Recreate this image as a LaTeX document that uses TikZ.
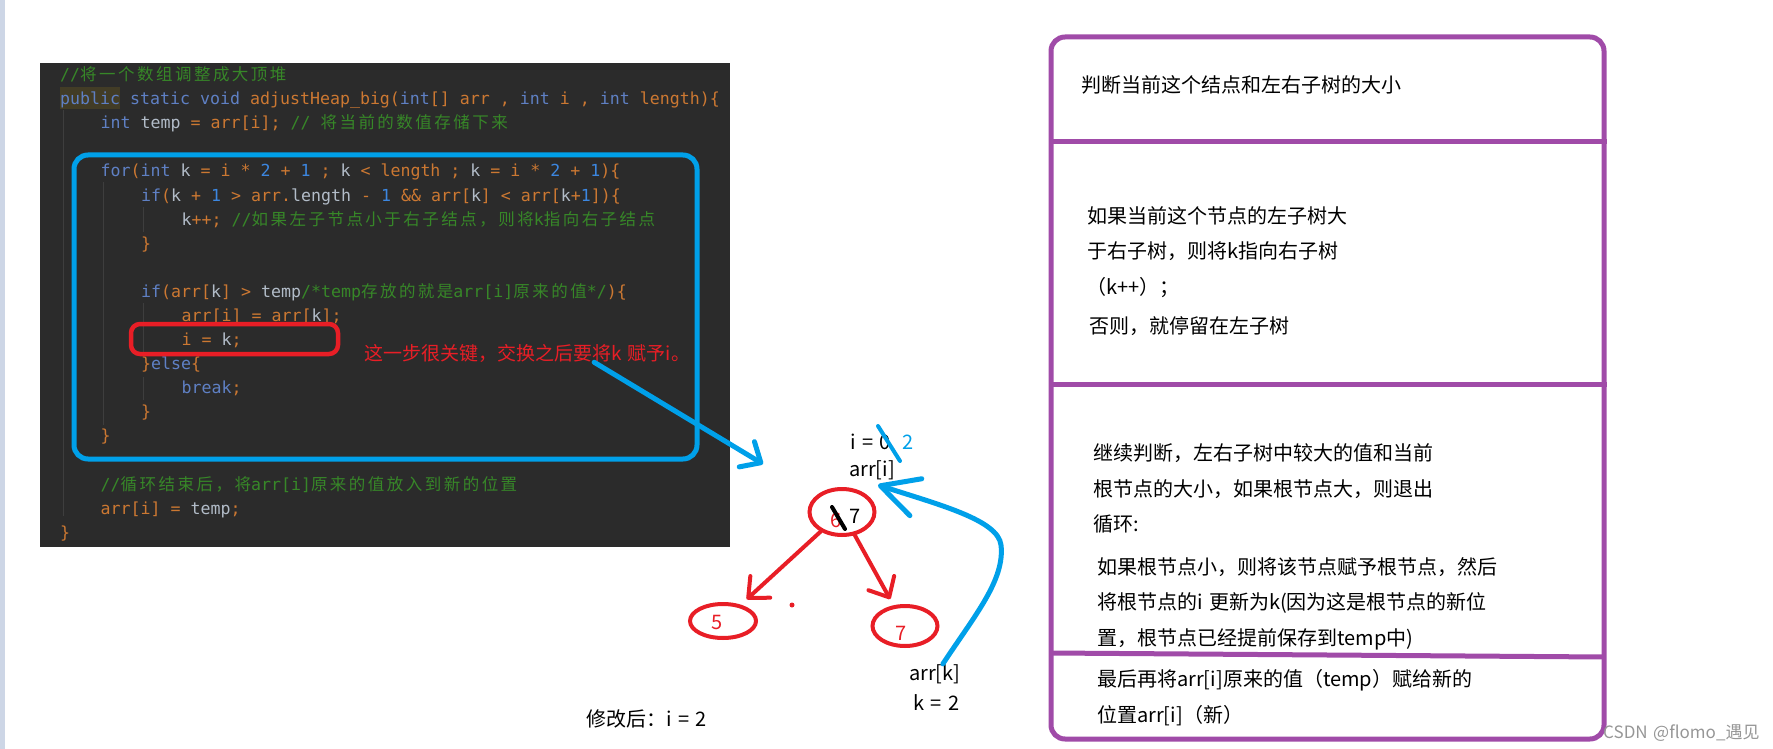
\documentclass[tikz,border=0pt]{standalone}
\usepackage{fontspec}
\setmainfont[WordSpace=1.45]{Noto Sans CJK SC}
\setmonofont{DejaVu Sans Mono}
\newfontfamily\zhmono[LetterSpace=15]{Noto Sans CJK SC}
\usetikzlibrary{arrows.meta,shapes.geometric}
\definecolor{panelbg}{RGB}{43,43,43}
\definecolor{guide}{RGB}{62,62,62}
\definecolor{kwblue}{RGB}{95,128,196}
\definecolor{idorange}{RGB}{204,120,50}
\definecolor{lvgray}{RGB}{178,188,200}
\definecolor{numblue}{RGB}{60,135,225}
\definecolor{cmgreen}{RGB}{55,135,40}
\definecolor{pubbg}{RGB}{66,60,38}
\definecolor{penblue}{RGB}{0,160,233}
\definecolor{penred}{RGB}{232,30,38}
\definecolor{penpurple}{RGB}{160,75,168}
\definecolor{wmgray}{RGB}{150,150,150}
\definecolor{stripbg}{RGB}{205,214,230}

\begin{document}
\begin{tikzpicture}[x=1pt, y=-1pt]
\tikzset{
  codeln/.style={anchor=base west, inner sep=0, text=idorange, font=\ttfamily\fontsize{16.6}{20}\selectfont},
  txt/.style={anchor=base west, inner sep=0, font=\fontsize{20}{24}\selectfont},
  digit/.style={anchor=base, inner sep=0, font=\fontsize{20}{24}\selectfont},
  heapnode/.style={ellipse, draw=penred, line width=4, inner sep=0},
  redpen/.style={draw=penred, line width=4, line cap=round},
  bluepen/.style={draw=penblue, line width=5, line cap=round},
  purplepen/.style={draw=penpurple, line width=5},
  barb/.style={-{Straight Barb[angle=84:22pt, round]}}
}
\newcommand\ckw[1]{\textcolor{kwblue}{#1}}
\newcommand\clv[1]{\textcolor{lvgray}{#1}}
\newcommand\cnu[1]{\textcolor{numblue}{#1}}
\newcommand\ccm[1]{\textcolor{cmgreen}{#1}}
\newcommand\zh[1]{{\zhmono\fontsize{16.5}{20}\selectfont#1}}

\useasboundingbox (0,0) rectangle (1773,749);
\fill[stripbg] (0,0) rectangle (5,749);
\fill[panelbg] (40,63) rectangle (730,547);
\fill[pubbg] (60,87) rectangle (120,109);
\draw[guide, line width=1] (63,110) -- (63,516);
\draw[guide, line width=1] (103,182) -- (103,425);
\draw[guide, line width=1] (143,207) -- (143,232);
\draw[guide, line width=1] (143,303) -- (143,352);
\draw[guide, line width=1] (143,377) -- (143,400);

\node[codeln] (c0) at (60,81) {\ccm{//\zh{将一个数组调整成大顶堆}}};
\node[codeln] (c1) at (60,105) {\ckw{public} \ckw{static} \ckw{void} adjustHeap\_big(\ckw{int}[] arr , \ckw{int} i , \ckw{int} length)\{};
\node[codeln] (c2) at (100.5,129) {\ckw{int} \clv{temp} = arr[i]; \ccm{// \zh{将当前的数值存储下来}}};
\node[codeln] (c4) at (100.5,177) {\ckw{for}(\ckw{int} \clv{k} = i * \cnu{2} + \cnu{1} ; \clv{k} < length ; \clv{k} = i * \cnu{2} + \cnu{1})\{};
\node[codeln] (c5) at (141,201) {\ckw{if}(\clv{k} + \cnu{1} > arr.\clv{length} - \cnu{1} \&\& arr[\clv{k}] < arr[\clv{k}+\cnu{1}])\{};
\node[codeln] (c6) at (181.5,225) {\clv{k}++; \ccm{//\zh{如果左子节点小于右子结点，则将}k\zh{指向右子结点}}};
\node[codeln] (c7) at (141,249) {\}};
\node[codeln] (c9) at (141,297.5) {\ckw{if}(arr[\clv{k}] > \clv{temp}\ccm{/*temp\zh{存放的就是}arr[i]\zh{原来的值}*/})\{};
\node[codeln] (c10) at (181.5,321.5) {arr[i] = arr[\clv{k}];};
\node[codeln] (c11) at (181.5,345.5) {i = \clv{k};};
\node[codeln] (c12) at (141,369.5) {\}\ckw{else}\{};
\node[codeln] (c13) at (181.5,393.5) {\ckw{break};};
\node[codeln] (c14) at (141,417.5) {\}};
\node[codeln] (c15) at (100.5,441.5) {\}};
\node[codeln] (c17) at (100.5,490) {\ccm{//\zh{循环结束后，将}arr[i]\zh{原来的值放入到新的位置}}};
\node[codeln] (c18) at (100.5,514) {arr[i] = \clv{temp};};
\node[codeln] (c19) at (60,538) {\}};

\draw[bluepen, rounded corners=14] (74,155) rectangle (697,459);
\draw[redpen, line width=4.5, rounded corners=9] (131,324) rectangle (338,354);
\node[txt, text=penred, font=\fontsize{19}{22}\selectfont] (key) at (364,360) {这一步很关键，交换之后要将k 赋予i。};
\coordinate (ptr) at (763,464);
\draw[bluepen, barb] ([xshift=67]key.south) -- (ptr);

\node[heapnode, minimum width=65, minimum height=46] (root) at (842,512) {};
\node[heapnode, minimum width=66, minimum height=34] (lft) at (723,621) {};
\node[heapnode, minimum width=65, minimum height=40] (rgt) at (905,626) {};
\node[digit, text=penred] (six) at (836,527) {6};
\node[digit] (seven) at (855,523) {7};
\draw[line width=4, line cap=round] (832,507) -- (845,529);
\node[digit, text=penred] (five) at (717,629) {5};
\node[digit, text=penred] (sevenb) at (901,640) {7};
\fill[penred] (792,605) circle (2.5);
\draw[redpen, barb, shorten >=8] (root) -- (lft);
\draw[redpen, barb, shorten >=7] (root) -- (rgt);

\node[txt] (izero) at (850,449) {i = 0};
\node[txt, text=penblue] (itwo) at (902,449) {2};
\draw[bluepen, line width=4] (878,426) -- (900,461);
\node[txt] (ai) at (849,476) {arr[i]};
\node[txt] (ak) at (909,680) {arr[k]};
\node[txt] (kval) at (913,710) {k = 2};
\node[txt] (after) at (586,726) {修改后：i = 2};
\coordinate (aitip) at (878,485);
\draw[bluepen, -{Straight Barb[angle=55:42pt, round]}] ([xshift=8]ak.north) .. controls (975,615) and (1005,580) .. (1001,545) .. controls (998,520) and (940,505) .. (aitip);

\draw[purplepen, rounded corners=14] (1051,37) rectangle (1604,739);
\draw[purplepen] (1051,142) -- (1607,142);
\draw[purplepen] (1051,384) -- (1607,384);
\draw[purplepen] (1051,653) -- (1604,657);
\foreach \n/\x/\y/\t in {p1/1081/92.5/{判断当前这个结点和左右子树的大小},
  p2/1087/223.5/{如果当前这个节点的左子树大}, p3/1087/258.5/{于右子树，则将k指向右子树},
  p4/1086/294.5/{（k++）；}, p5/1089/333.5/{否则，就停留在左子树},
  p6/1093/460.5/{继续判断，左右子树中较大的值和当前}, p7/1093/496.5/{根节点的大小，如果根节点大，则退出},
  p8/1093/531.5/{循环:}, p9/1097/574.5/{如果根节点小，则将该节点赋予根节点，然后},
  p10/1097/609.5/{将根节点的i 更新为k(因为这是根节点的新位}, p11/1097/645.5/{置，根节点已经提前保存到temp中)},
  p12/1097/686.5/{最后再将arr[i]原来的值（temp）赋给新的}, p13/1097/722.5/{位置arr[i]（新）}}{
  \node[txt] (\n) at (\x,\y) {\t};
}
\node[txt, text=wmgray, font=\fontsize{17}{20}\selectfont] (wm) at (1603,738) {CSDN @flomo\_遇见};
\end{tikzpicture}
\end{document}
